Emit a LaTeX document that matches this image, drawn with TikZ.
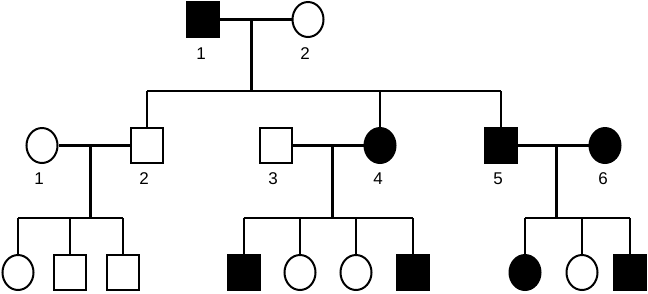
\documentclass[tikz,border=0pt]{standalone}
\usepackage{fontspec}
\setmainfont{Liberation Sans}
\usetikzlibrary{shapes.geometric}
\begin{document}
\begin{tikzpicture}[x=1pt,y=-1pt]
\useasboundingbox (0,0) rectangle (648,293);
\tikzset{
 male/.style={draw, line width=2pt, rectangle, minimum width=32pt, minimum height=35pt, inner sep=0pt},
 female/.style={draw, line width=2pt, ellipse, minimum width=31pt, minimum height=35pt, inner sep=0pt},
 aff/.style={fill=black},
 lab/.style={font=\fontsize{17}{17}\selectfont, inner sep=0pt},
 mline/.style={line width=3pt},
 sline/.style={line width=2pt},
}
% Generation I
\node[male,aff] (I1) at (203,19.5) {};
\node[female] (I2) at (308,19.5) {};
\node[lab] (lI1) at (201,53.5) {1};
\node[lab] (lI2) at (305,53.5) {2};
% Generation II
\node[female] (II1) at (42,145.5) {};
\node[male] (II2) at (147,145.5) {};
\node[male] (II3) at (276,145.5) {};
\node[female,aff] (II4) at (380,145.5) {};
\node[male,aff] (II5) at (501,145.5) {};
\node[female,aff] (II6) at (605,145.5) {};
\node[lab] (lII1) at (39,179) {1};
\node[lab] (lII2) at (144,179) {2};
\node[lab] (lII3) at (273,179) {3};
\node[lab] (lII4) at (378,179) {4};
\node[lab] (lII5) at (498,179) {5};
\node[lab] (lII6) at (603,179) {6};
% Generation III
\node[female] (A1) at (18,272.5) {};
\node[male] (A2) at (70,272.5) {};
\node[male] (A3) at (123,272.5) {};
\node[male,aff] (B1) at (243.5,272.5) {};
\node[female] (B2) at (300,272.5) {};
\node[female] (B3) at (356,272.5) {};
\node[male,aff] (B4) at (413,272.5) {};
\node[female,aff] (C1) at (525,272.5) {};
\node[female] (C2) at (582,272.5) {};
\node[male,aff] (C3) at (630,272.5) {};
% coordinates
\coordinate (m1) at (251,19.5);
\coordinate (s1) at (251,91);
\coordinate (m2) at (90,145.5);
\coordinate (s2) at (90,218);
\coordinate (m3) at (332.5,145.5);
\coordinate (s3) at (332.5,218);
\coordinate (m4) at (556.5,145.5);
\coordinate (s4) at (556.5,218);
% Generation I connectors
\draw[mline] (I1.east) -- (I2.west);
\draw[mline] (m1) -- (s1);
\draw[sline] (II2.north |- s1) -- (II5.north |- s1);
\draw[sline] (II2.north |- s1) -- (II2.north);
\draw[sline] (II4.north |- s1) -- (II4.north);
\draw[sline] (II5.north |- s1) -- (II5.north);
% Family II-1 x II-2
\draw[mline] (II1.east) -- (II2.west);
\draw[mline] (m2) -- (s2);
\draw[sline] (A1.north |- s2) -- (A3.north |- s2);
\draw[sline] (A1.north |- s2) -- (A1.north);
\draw[sline] (A2.north |- s2) -- (A2.north);
\draw[sline] (A3.north |- s2) -- (A3.north);
% Family II-3 x II-4
\draw[mline] (II3.east) -- (II4.west);
\draw[mline] (m3) -- (s3);
\draw[sline] (B1.north |- s3) -- (B4.north |- s3);
\draw[sline] (B1.north |- s3) -- (B1.north);
\draw[sline] (B2.north |- s3) -- (B2.north);
\draw[sline] (B3.north |- s3) -- (B3.north);
\draw[sline] (B4.north |- s3) -- (B4.north);
% Family II-5 x II-6
\draw[mline] (II5.east) -- (II6.west);
\draw[mline] (m4) -- (s4);
\draw[sline] (C1.north |- s4) -- (C3.north |- s4);
\draw[sline] (C1.north |- s4) -- (C1.north);
\draw[sline] (C2.north |- s4) -- (C2.north);
\draw[sline] (C3.north |- s4) -- (C3.north);
\end{tikzpicture}
\end{document}
